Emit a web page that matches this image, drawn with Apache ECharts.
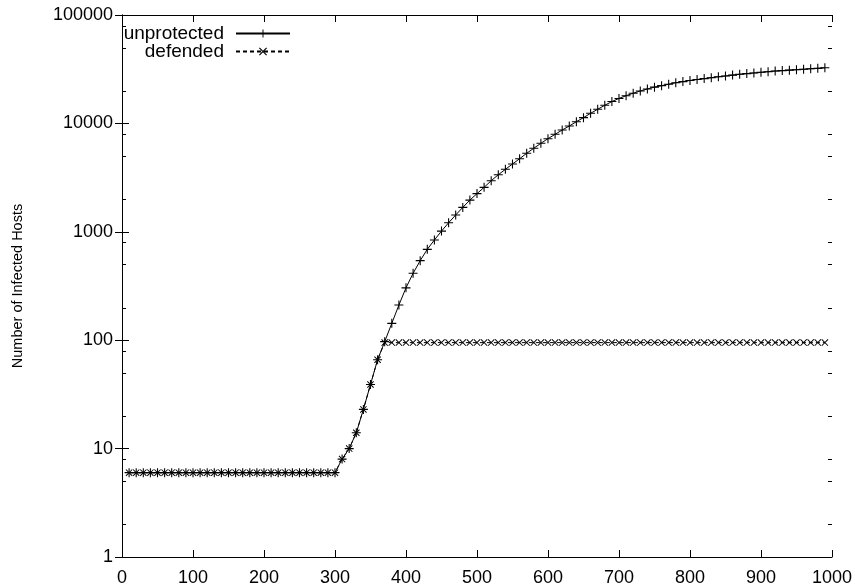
<!DOCTYPE html>
<html>
<head>
<meta charset="utf-8">
<script src="https://cdn.jsdelivr.net/npm/echarts@6/dist/echarts.min.js"></script>
<style>
  html, body { margin: 0; padding: 0; background: #fff; }
  #chart { width: 855px; height: 588px; }
</style>
</head>
<body>
<div id="chart"></div>
<script>
const xs = [
  10, 20, 30, 40, 50, 60, 70, 80, 90, 100, 110, 120, 130, 140, 150, 160, 170, 180, 190, 200,
  210, 220, 230, 240, 250, 260, 270, 280, 290, 300, 310, 320, 330, 340, 350, 360, 370, 380, 390, 400,
  410, 420, 430, 440, 450, 460, 470, 480, 490, 500, 510, 520, 530, 540, 550, 560, 570, 580, 590, 600,
  610, 620, 630, 640, 650, 660, 670, 680, 690, 700, 710, 720, 730, 740, 750, 760, 770, 780, 790, 800,
  810, 820, 830, 840, 850, 860, 870, 880, 890, 900, 910, 920, 930, 940, 950, 960, 970, 980, 990
]

const unprotected = [
  6, 6, 6, 6, 6, 6, 6, 6, 6, 6, 6, 6, 6, 6, 6, 6, 6, 6, 6, 6,
  6, 6, 6, 6, 6, 6, 6, 6, 6, 6, 8, 10, 14, 23, 39, 66, 97, 143, 211, 304,
  414, 542, 689, 840, 1015, 1210, 1430, 1680, 1960, 2250, 2570, 2960, 3360, 3770, 4220, 4720, 5300, 5900, 6550, 7230,
  7930, 8690, 9460, 10370, 11300, 12390, 13490, 14700, 15900, 17000, 18000, 19000, 19900, 20800, 21600, 22300, 23000, 23700, 24300, 24900,
  25400, 25900, 26400, 26900, 27400, 27900, 28400, 28800, 29200, 29600, 30000, 30400, 30700, 31000, 31300, 31600, 31900, 32200, 32600
]

const defended = [
  6, 6, 6, 6, 6, 6, 6, 6, 6, 6, 6, 6, 6, 6, 6, 6, 6, 6, 6, 6,
  6, 6, 6, 6, 6, 6, 6, 6, 6, 6, 8, 10, 14, 23, 39, 66, 95, 95, 95, 95,
  95, 95, 95, 95, 95, 95, 95, 95, 95, 95, 95, 95, 95, 95, 95, 95, 95, 95, 95, 95,
  95, 95, 95, 95, 95, 95, 95, 95, 95, 95, 95, 95, 95, 95, 95, 95, 95, 95, 95, 95,
  95, 95, 95, 95, 95, 95, 95, 95, 95, 95, 95, 95, 95, 95, 95, 95, 95, 95, 95
]

// minor ticks on the log axis (gnuplot style 2, 5, 8 per decade)
const yMinorTicks = [2, 5, 8, 20, 50, 80, 200, 500, 800, 2000, 5000, 8000, 20000, 50000, 80000]

const seriesNames = ['unprotected', 'defended']
const yAxisName = 'Number of Infected Hosts'

const FONT = '"Liberation Sans", Arial, sans-serif'
const PLUS = 'path://M0,4.4H10V5.6H0Z M4.4,0H5.6V10H4.4Z'
const CROSS = 'path://M0,1L1,0L10,9L9,10Z M9,0L10,1L1,10L0,9Z'

const tickStyle = { show: true, inside: true, length: 7, lineStyle: { color: '#000', width: 1 } }
const lineStyle = { show: true, lineStyle: { color: '#000', width: 1 } }
const plainNumber = (v) => String(Math.round(v))

const chart = echarts.init(document.getElementById('chart'), null, { renderer: 'canvas' })

const legendBase = {
    orient: 'vertical',
    right: 564,
    padding: 0,
    itemWidth: 54,
    itemHeight: 10,
    align: 'right',
    textStyle: { color: '#000', fontSize: 19, fontFamily: FONT, lineHeight: 19, padding: [0, 7, 0, 0] }
}

chart.setOption({
    animation: false,
    backgroundColor: '#fff',
    legend: [
        { ...legendBase, top: 24, data: [seriesNames[0]] },
        { ...legendBase, top: 42, data: [seriesNames[1]] }
    ],
    grid: { left: 122, right: 23, top: 15, bottom: 31 },
    xAxis: [
        {
            type: 'value', min: 0, max: 1000, interval: 100,
            axisLine: lineStyle, axisTick: tickStyle,
            axisLabel: { color: '#000', fontSize: 18, fontFamily: FONT, margin: 12, formatter: plainNumber },
            splitLine: { show: false }
        },
        {
            type: 'value', position: 'top', min: 0, max: 1000, interval: 100,
            axisLine: lineStyle, axisTick: tickStyle,
            axisLabel: { show: false }, splitLine: { show: false }
        }
    ],
    yAxis: [
        {
            type: 'log', logBase: 10, min: 1, max: 100000,
            name: yAxisName, nameLocation: 'middle', nameGap: 97, nameRotate: 90,
            nameTextStyle: { color: '#000', fontSize: 14.5, fontFamily: FONT },
            axisLine: lineStyle, axisTick: tickStyle,
            axisLabel: { color: '#000', fontSize: 18, fontFamily: FONT, margin: 9, formatter: plainNumber },
            splitLine: { show: false }
        },
        {
            type: 'log', logBase: 10, min: 1, max: 100000, position: 'right',
            axisLine: lineStyle, axisTick: tickStyle,
            axisLabel: { show: false }, splitLine: { show: false }
        }
    ],
    series: [
        {
            name: seriesNames[0],
            type: 'line',
            data: xs.map((x, i) => [x, unprotected[i]]),
            symbol: PLUS,
            symbolSize: 9,
            showAllSymbol: true,
            itemStyle: { color: '#000' },
            lineStyle: { color: '#000', width: 1 },
            z: 3
        },
        {
            name: seriesNames[1],
            type: 'line',
            data: xs.map((x, i) => [x, defended[i]]),
            symbol: CROSS,
            symbolSize: 7,
            showAllSymbol: true,
            itemStyle: { color: '#000' },
            lineStyle: { color: '#000', width: 1, type: [4, 3] },
            z: 4
        },
        {
            type: 'custom',
            silent: true,
            data: yMinorTicks.map((v) => [0, v]),
            renderItem: (params, api) => {
                const l = api.coord([0, api.value(1)])
                const r = api.coord([1000, api.value(1)])
                const y = Math.round(l[1]) + 0.5
                return {
                    type: 'group',
                    children: [
                        { type: 'line', shape: { x1: l[0], y1: y, x2: l[0] + 4, y2: y }, style: { stroke: '#000', lineWidth: 1 } },
                        { type: 'line', shape: { x1: r[0] - 4, y1: y, x2: r[0], y2: y }, style: { stroke: '#000', lineWidth: 1 } }
                    ]
                }
            }
        }
    ]
})
</script>
</body>
</html>
